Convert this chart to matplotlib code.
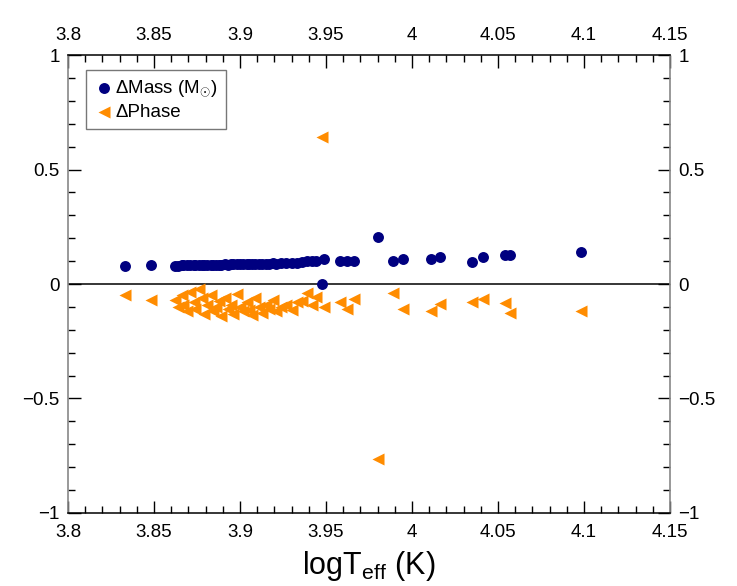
import numpy as np
import matplotlib.pyplot as plt
from matplotlib.ticker import MultipleLocator, FuncFormatter

plt.rcParams['font.family'] = ['Liberation Sans', 'DejaVu Sans']
plt.rcParams['mathtext.fontset'] = 'custom'
plt.rcParams['mathtext.rm'] = 'Liberation Sans'
plt.rcParams['mathtext.it'] = 'Liberation Sans'

# star temperatures (log Teff) and the two offsets
log_teff = [3.833, 3.848,
            3.862, 3.864, 3.866, 3.867, 3.869, 3.871, 3.873, 3.874, 3.876, 3.878,
            3.879, 3.881, 3.883, 3.884, 3.886, 3.888, 3.889, 3.891, 3.893, 3.895,
            3.896, 3.898, 3.900, 3.902, 3.904, 3.905, 3.907, 3.909, 3.911, 3.913,
            3.915, 3.917, 3.919, 3.921, 3.924, 3.927, 3.930, 3.933,
            3.936, 3.939, 3.942, 3.944, 3.9475, 3.949, 3.958, 3.962, 3.966,
            3.980, 3.989, 3.995, 4.011, 4.016, 4.035, 4.041, 4.054, 4.057, 4.098]
d_mass = [0.079, 0.082,
          0.080, 0.080, 0.081, 0.081, 0.082, 0.081, 0.082, 0.083, 0.082, 0.083,
          0.084, 0.083, 0.084, 0.085, 0.084, 0.085, 0.085, 0.086, 0.085, 0.086,
          0.086, 0.087, 0.087, 0.086, 0.087, 0.088, 0.087, 0.088, 0.088, 0.089,
          0.088, 0.089, 0.090, 0.089, 0.090, 0.091, 0.091, 0.092,
          0.097, 0.099, 0.099, 0.100, 0.001, 0.110, 0.101, 0.101, 0.101,
          0.207, 0.102, 0.110, 0.111, 0.119, 0.097, 0.119, 0.127, 0.127, 0.141]
d_phase = [-0.048, -0.070,
           -0.070, -0.100, -0.050, -0.090, -0.120, -0.035, -0.080, -0.110, -0.020, -0.060,
           -0.130, -0.090, -0.050, -0.120, -0.100, -0.075, -0.140, -0.060, -0.110, -0.090,
           -0.130, -0.045, -0.100, -0.120, -0.080, -0.115, -0.135, -0.060, -0.100, -0.125,
           -0.090, -0.110, -0.070, -0.120, -0.100, -0.090, -0.115, -0.080,
           -0.073, -0.038, -0.092, -0.055, 0.642, -0.102, -0.077, -0.110, -0.064,
           -0.764, -0.038, -0.110, -0.117, -0.087, -0.079, -0.065, -0.082, -0.128, -0.117]

fig = plt.figure(figsize=(7.37, 5.86), dpi=100)
ax = fig.add_axes([0.0923, 0.1246, 0.8168, 0.7815])

ax.axhline(0, color='black', lw=1.1, zorder=1)
ax.scatter(log_teff, d_mass, s=62, marker='o', color='#000080', lw=0,
           label='ΔMass (M$_{\\odot}$)', zorder=3)
ax.scatter(log_teff, d_phase, s=75, marker='<', color='#FF8C00', lw=0,
           label='ΔPhase', zorder=2)

ax.set_xlim(3.8, 4.15)
ax.set_ylim(-1, 1)
ax.xaxis.set_major_locator(MultipleLocator(0.05))
ax.xaxis.set_minor_locator(MultipleLocator(0.01))
ax.yaxis.set_major_locator(MultipleLocator(0.5))
ax.yaxis.set_minor_locator(MultipleLocator(0.1))

fmt = FuncFormatter(lambda v, p: ('%g' % round(v, 3)).replace('-', '\u2212'))
ax.xaxis.set_major_formatter(fmt)
ax.yaxis.set_major_formatter(fmt)

ax.tick_params(which='both', direction='in', top=True, right=True,
               labeltop=True, labelright=True, labelsize=13.5, color='black')
ax.tick_params(axis='x', which='major', pad=8)
ax.tick_params(axis='y', which='major', pad=6)
ax.tick_params(which='major', length=9, width=1)
ax.tick_params(which='minor', length=5, width=1)

for s in ['left', 'right']:
    ax.spines[s].set_color('#888888')
    ax.spines[s].set_linewidth(1.2)
for s in ['top', 'bottom']:
    ax.spines[s].set_color('black')
    ax.spines[s].set_linewidth(1.1)

ax.set_xlabel('logT$_{\\rm eff}$ (K)', fontsize=22, labelpad=6)

leg = ax.legend(loc='upper left', bbox_to_anchor=(0.03, 0.968), fontsize=13.5,
                frameon=True, fancybox=False, handletextpad=0.1,
                handlelength=1.0, borderpad=0.45, labelspacing=0.25,
                borderaxespad=0)
leg.get_frame().set_edgecolor('#555555')
leg.get_frame().set_linewidth(1.0)

fig.savefig('out.png', dpi=100)
